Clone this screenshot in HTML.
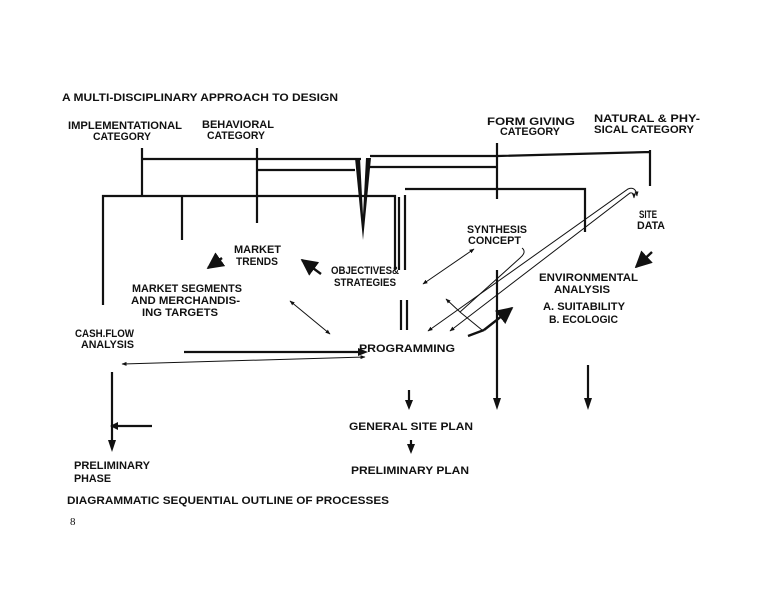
<!DOCTYPE html>
<html><head><style>
body{margin:0;background:#fff;width:780px;height:600px;overflow:hidden}
svg{display:block}
text{font-family:"Liberation Sans",sans-serif;font-weight:bold;font-size:11px;fill:#111}
</style></head><body>
<svg width="780" height="600" viewBox="0 0 780 600">
<defs>
<marker id="a" viewBox="0 0 10 10" refX="9" refY="5" markerWidth="7" markerHeight="7" orient="auto-start-reverse"><path d="M0,0L10,5L0,10z" fill="#111"/></marker>
<marker id="s" viewBox="0 0 10 10" refX="9" refY="5" markerWidth="5" markerHeight="5" orient="auto-start-reverse"><path d="M0,1L10,5L0,9z" fill="#111"/></marker>
</defs>
<g stroke="#111" stroke-width="2.2" fill="none">
<path d="M142,148V195M142,159H361M370,156H498L650,152M650,150V186"/>
<path d="M257,148V223M257,170H355M368,167H497M497,143V199"/>
<path d="M103,305V196H395V270M182,196V240"/>
<path d="M399,197V270M405,195V270M401,300V330M407,300V330"/>
<path d="M405,189H585V232"/>
<path d="M497,270V398"/>
<path d="M588,365V398"/>
<path d="M112,372V440M152,426H118"/>
<path d="M409,390V402M411,440V446"/>
<path d="M184,352H360"/>
</g>
<path d="M355,158L363,240L371,158L366,158L363,215L360,158z" fill="#111"/>
<g fill="#111">
<path d="M493,398L501,398L497,410z"/><path d="M584,398L592,398L588,410z"/>
<path d="M108,440L116,440L112,452z"/><path d="M118,422L118,430L110,426z"/>
<path d="M405,400L413,400L409,410z"/><path d="M407,444L415,444L411,454z"/>
<path d="M358,348L358,356L368,352z"/>
</g>
<g stroke="#111" stroke-width="2.4" fill="none">
<path d="M222,258L208,268" marker-end="url(#a)"/>
<path d="M321,274L302,260" marker-end="url(#a)"/>
<path d="M652,252L636,267" marker-end="url(#a)"/>
<path d="M484,330L512,308" marker-end="url(#a)"/>
<path d="M484,330L468,336"/>
</g>
<g stroke="#111" stroke-width="1" fill="none">
<path d="M122,364L365,357" marker-start="url(#s)" marker-end="url(#s)"/>
<path d="M290,301L330,334" marker-start="url(#s)" marker-end="url(#s)"/>
<path d="M474,249L423,284" marker-start="url(#s)" marker-end="url(#s)"/>
<path d="M428,331L628,189Q636,186 637,196" marker-start="url(#s)" marker-end="url(#s)"/>
<path d="M450,331L630,193Q634,192 634,198" marker-start="url(#s)" marker-end="url(#s)"/>
<path d="M446,299L460,312L482,330M460,312L520,258Q527,252 522,248" marker-start="url(#s)"/>
</g>
<g lengthAdjust="spacingAndGlyphs">
<text x="62" y="101" textLength="276" lengthAdjust="spacingAndGlyphs">A MULTI-DISCIPLINARY APPROACH TO DESIGN</text>
<text x="68" y="129" textLength="114" lengthAdjust="spacingAndGlyphs">IMPLEMENTATIONAL</text><text x="93" y="140" textLength="58" lengthAdjust="spacingAndGlyphs">CATEGORY</text>
<text x="202" y="128" textLength="72" lengthAdjust="spacingAndGlyphs">BEHAVIORAL</text><text x="207" y="139" textLength="58" lengthAdjust="spacingAndGlyphs">CATEGORY</text>
<text x="487" y="125" textLength="88" lengthAdjust="spacingAndGlyphs">FORM  GIVING</text><text x="500" y="135" textLength="60" lengthAdjust="spacingAndGlyphs">CATEGORY</text>
<text x="594" y="122" textLength="106" lengthAdjust="spacingAndGlyphs">NATURAL &amp; PHY-</text><text x="594" y="133" textLength="100" lengthAdjust="spacingAndGlyphs">SICAL  CATEGORY</text>
<text x="234" y="253" textLength="47" lengthAdjust="spacingAndGlyphs">MARKET</text><text x="236" y="265" textLength="42" lengthAdjust="spacingAndGlyphs">TRENDS</text>
<text x="331" y="274" textLength="68" lengthAdjust="spacingAndGlyphs">OBJECTIVES&amp;</text><text x="334" y="286" textLength="62" lengthAdjust="spacingAndGlyphs">STRATEGIES</text>
<text x="467" y="233" textLength="60" lengthAdjust="spacingAndGlyphs">SYNTHESIS</text><text x="468" y="244" textLength="53" lengthAdjust="spacingAndGlyphs">CONCEPT</text>
<text x="639" y="218" textLength="18" lengthAdjust="spacingAndGlyphs">SITE</text><text x="637" y="229" textLength="28" lengthAdjust="spacingAndGlyphs">DATA</text>
<text x="539" y="281" textLength="99" lengthAdjust="spacingAndGlyphs">ENVIRONMENTAL</text><text x="554" y="293" textLength="56" lengthAdjust="spacingAndGlyphs">ANALYSIS</text>
<text x="543" y="310" textLength="82" lengthAdjust="spacingAndGlyphs">A. SUITABILITY</text><text x="549" y="323" textLength="69" lengthAdjust="spacingAndGlyphs">B. ECOLOGIC</text>
<text x="132" y="292" textLength="110" lengthAdjust="spacingAndGlyphs">MARKET SEGMENTS</text><text x="131" y="304" textLength="109" lengthAdjust="spacingAndGlyphs">AND MERCHANDIS-</text><text x="142" y="316" textLength="76" lengthAdjust="spacingAndGlyphs">ING TARGETS</text>
<text x="75" y="337" textLength="59" lengthAdjust="spacingAndGlyphs">CASH.FLOW</text><text x="81" y="348" textLength="53" lengthAdjust="spacingAndGlyphs">ANALYSIS</text>
<text x="359" y="352" textLength="96" lengthAdjust="spacingAndGlyphs">PROGRAMMING</text>
<text x="349" y="430" textLength="124" lengthAdjust="spacingAndGlyphs">GENERAL  SITE  PLAN</text>
<text x="351" y="474" textLength="118" lengthAdjust="spacingAndGlyphs">PRELIMINARY  PLAN</text>
<text x="74" y="469" textLength="76" lengthAdjust="spacingAndGlyphs">PRELIMINARY</text><text x="74" y="482" textLength="37" lengthAdjust="spacingAndGlyphs">PHASE</text>
<text x="67" y="504" textLength="322" lengthAdjust="spacingAndGlyphs">DIAGRAMMATIC  SEQUENTIAL  OUTLINE  OF  PROCESSES</text>
</g>
<text x="70" y="525" style="font-family:'Liberation Serif',serif;font-weight:normal" font-size="11">8</text>
</svg>
</body></html>
